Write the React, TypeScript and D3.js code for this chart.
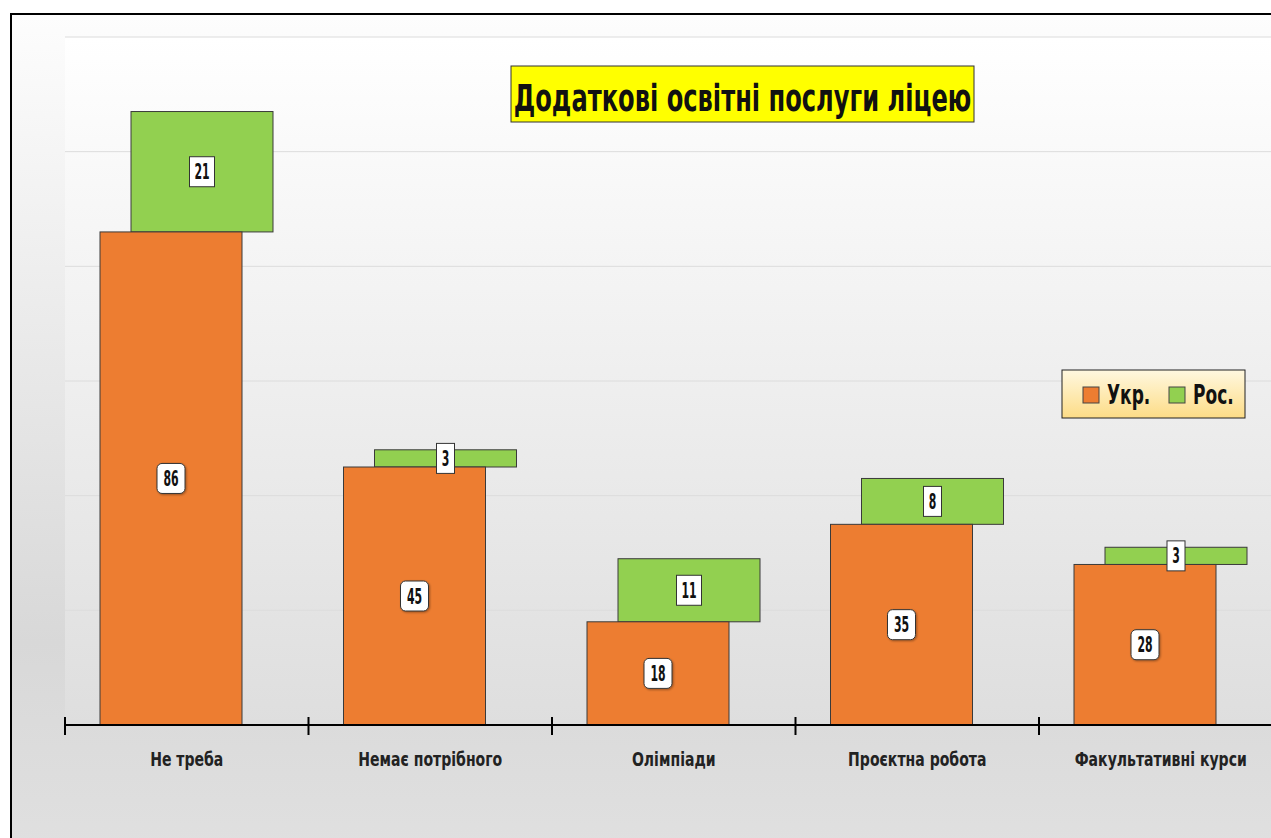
import React from 'react';
import * as d3 from 'd3';

// chart data
const categories = ['Не треба', 'Немає потрібного', 'Олімпіади', 'Проєктна робота', 'Факультативні курси'];
const ukrValues = [86, 45, 18, 35, 28];
const rosValues = [21, 3, 11, 8, 3];
const seriesNames = ['Укр.', 'Рос.'];
const yTicks = [0, 20, 40, 60, 80, 100, 120];
const title = 'Додаткові освітні послуги ліцею';

const width = 1271;
const height = 838;
const FONT = '"DejaVu Sans", sans-serif';
const ORANGE = '#ED7D31';
const GREEN = '#92D050';

// condensed text: the original uses a narrow font, so squeeze DejaVu horizontally
const CText = ({ x, y, sx, children, ...rest }: any) => (
  <text transform={`translate(${x},${y}) scale(${sx},1)`} {...rest}>
    {children}
  </text>
);

const App = () => {
  const margin = { left: 65, bottom: 725, top: 37 };
  const bandW = 243.5;

  const xScale = d3
    .scaleBand<string>()
    .domain(categories)
    .range([margin.left, margin.left + bandW * categories.length])
    .padding(0);

  const yScale = d3.scaleLinear().domain([0, 120]).range([margin.bottom, margin.top]);

  const barW = 142;
  const barOffset = 35;
  const greenShift = 31;

  return (
    <svg
      width={width}
      height={height}
      style={{ position: 'absolute', left: 0, top: 0 }}
      fontFamily={FONT}
    >
      <defs>
        <linearGradient id="bg" x1="0" y1="0" x2="0" y2="1">
          <stop offset="0" stopColor="#fdfdfd" />
          <stop offset="0.75" stopColor="#d8d8d8" />
          <stop offset="1" stopColor="#e0e0e0" />
        </linearGradient>
        <linearGradient id="plotBg" x1="0" y1="0" x2="0" y2="1">
          <stop offset="0" stopColor="#ffffff" />
          <stop offset="1" stopColor="#dedede" />
        </linearGradient>
        <linearGradient id="legendBg" x1="0" y1="0" x2="0" y2="1">
          <stop offset="0" stopColor="#fff8e0" />
          <stop offset="1" stopColor="#fddc86" />
        </linearGradient>
        <filter id="shadow" x="-20%" y="-20%" width="150%" height="150%">
          <feDropShadow dx="1" dy="1" stdDeviation="1" floodColor="#000" floodOpacity="0.35" />
        </filter>
      </defs>

      <rect x={0} y={0} width={width} height={height} fill="#fff" />
      <rect x={11} y={14} width={width} height={height} fill="url(#bg)" stroke="#000" strokeWidth={2} />
      <rect
        x={margin.left}
        y={margin.top}
        width={width - margin.left}
        height={margin.bottom - margin.top}
        fill="url(#plotBg)"
      />

      {/* gridlines */}
      {yTicks.slice(1).map(t => (
        <line key={t} x1={margin.left} x2={width} y1={yScale(t)} y2={yScale(t)} stroke="#dcdcdc" strokeWidth={1} />
      ))}

      {/* bars */}
      {categories.map((c, i) => {
        const x0 = (xScale(c) as number) + barOffset;
        const x1 = x0 + greenShift;
        const yU = yScale(ukrValues[i]);
        const yR = yScale(ukrValues[i] + rosValues[i]);
        return (
          <g key={c}>
            <rect x={x1} y={yR} width={barW} height={yU - yR} fill={GREEN} stroke="#3a3a3a" strokeWidth={1} />
            <rect x={x0} y={yU} width={barW} height={margin.bottom - yU} fill={ORANGE} stroke="#3a3a3a" strokeWidth={1} />
          </g>
        );
      })}

      {/* value labels */}
      {categories.map((c, i) => {
        const cxU = (xScale(c) as number) + barOffset + barW / 2;
        const cyU = (yScale(ukrValues[i]) + margin.bottom) / 2;
        const cxR = cxU + greenShift;
        const cyR = (yScale(ukrValues[i]) + yScale(ukrValues[i] + rosValues[i])) / 2;
        const wU = String(ukrValues[i]).length > 1 ? 28 : 20;
        const wR = String(rosValues[i]).length > 1 ? 25 : 18;
        return (
          <g key={c} fontWeight="bold" fontSize={21} textAnchor="middle" fill="#111">
            <rect
              x={cxU - wU / 2}
              y={cyU - 15}
              width={wU}
              height={30}
              rx={5}
              fill="#fff"
              stroke="#333"
              strokeWidth={1}
              filter="url(#shadow)"
            />
            <CText x={cxU} y={cyU + 7.5} sx={0.52}>{ukrValues[i]}</CText>
            <rect x={cxR - wR / 2} y={cyR - 15} width={wR} height={30} fill="#fff" stroke="#333" strokeWidth={1} />
            <CText x={cxR} y={cyR + 7.5} sx={0.52}>{rosValues[i]}</CText>
          </g>
        );
      })}

      {/* x axis */}
      <line x1={margin.left} x2={width} y1={margin.bottom} y2={margin.bottom} stroke="#000" strokeWidth={2} />
      {categories.map(c => (
        <line
          key={c}
          x1={xScale(c) as number}
          x2={xScale(c) as number}
          y1={margin.bottom - 8}
          y2={margin.bottom + 10}
          stroke="#000"
          strokeWidth={2}
        />
      ))}
      {categories.map(c => (
        <CText
          key={c}
          x={(xScale(c) as number) + xScale.bandwidth() / 2}
          y={766}
          sx={0.74}
          textAnchor="middle"
          fontSize={19}
          fontWeight="bold"
          fill="#222"
        >
          {c}
        </CText>
      ))}

      {/* title */}
      <rect x={511} y={66} width={463} height={56} fill="#ffff00" stroke="#333" strokeWidth={1} />
      <CText x={742.5} y={111} sx={0.636} textAnchor="middle" fontSize={38} fontWeight="bold" fill="#111">
        {title}
      </CText>

      {/* legend */}
      <rect x={1062} y={370} width={183} height={48} fill="url(#legendBg)" stroke="#222" strokeWidth={1} />
      {seriesNames.map((s, i) => (
        <g key={s} transform={`translate(${1083 + i * 86}, 387)`}>
          <rect width={16} height={16} fill={i === 0 ? ORANGE : GREEN} stroke="#444" strokeWidth={1} />
          <CText x={24} y={17} sx={0.63} fontSize={27} fontWeight="bold" fill="#111">
            {s}
          </CText>
        </g>
      ))}
    </svg>
  );
};

export default App;
